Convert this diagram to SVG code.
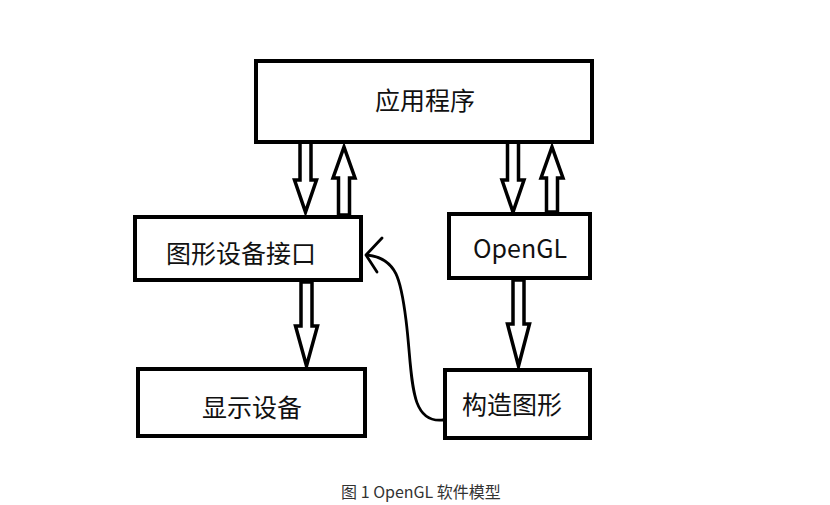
<svg xmlns="http://www.w3.org/2000/svg" width="830" height="505" viewBox="0 0 830 505">
<style>
.box{fill:#fff;stroke:#000;stroke-width:4}
.arr{fill:#fff;stroke:#000;stroke-width:3.5;stroke-linejoin:miter}
.t{font-family:"Noto Sans CJK SC","Noto Sans",sans-serif;font-size:25px;fill:#111;text-anchor:middle}
.cap{font-family:"Noto Sans CJK SC","Noto Sans",sans-serif;font-size:16px;fill:#333;text-anchor:middle}
.curve{fill:none;stroke:#000;stroke-width:2.8;stroke-linecap:round;stroke-linejoin:round}
</style>
<rect width="830" height="505" fill="#fff"/>
<g id="connectors">
<path class="arr" d="M300,142 V180 H294.5 L305.5,212 L316.5,180 H311 V142 Z"/>
<path class="arr" d="M338.5,215 V178 H333 L344,147 L355,178 H349.5 V215 Z"/>
<path class="arr" d="M507.5,142 V180 H502 L513,212 L524,180 H518.5 V142 Z"/>
<path class="arr" d="M546.5,212 V178 H541 L552,147 L563,178 H557.5 V212 Z"/>
<path class="arr" d="M301,282 V326 H295.5 L306.5,366 L317.5,326 H312 V282 Z"/>
<path class="arr" d="M513,280 V324 H507.5 L518.5,366 L529.5,324 H524 V280 Z"/>
<path class="curve" d="M443,420 C408,424 413,375 406,320 C401,280 397,258 367,255"/>
<path class="curve" d="M382,238 L366,255 L377,272"/>
</g>
<g id="app"><rect class="box" x="256" y="61" width="336" height="81"/><text class="t" x="425" y="110">应用程序</text></g>
<g id="gdi"><rect class="box" x="135" y="217" width="226" height="63"/><text class="t" x="241" y="263">图形设备接口</text></g>
<g id="display"><rect class="box" x="138" y="369" width="227" height="67"/><text class="t" x="252" y="417">显示设备</text></g>
<g id="opengl"><rect class="box" x="449" y="214" width="141" height="64"/><text class="t" x="520" y="258">OpenGL</text></g>
<g id="construct"><rect class="box" x="445" y="370" width="145" height="68"/><text class="t" x="512" y="414">构造图形</text></g>
<text class="cap" x="421" y="498">图 1 OpenGL 软件模型</text>
</svg>
